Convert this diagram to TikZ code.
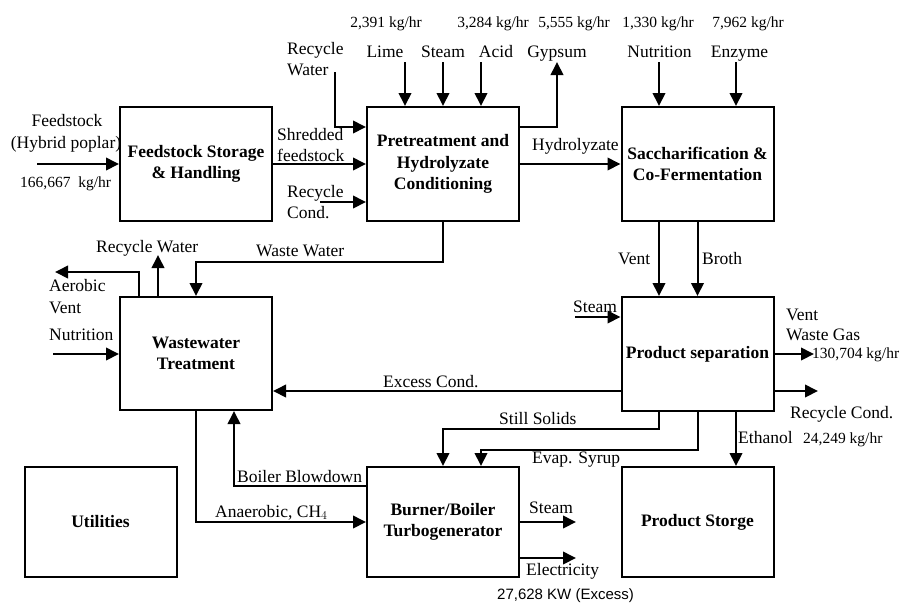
\documentclass[tikz,border=0pt]{standalone}
\usepackage{fontspec}
\setmainfont{Liberation Serif}
\newfontfamily\sansf{Liberation Sans}
\usetikzlibrary{arrows.meta}
\begin{document}
\begin{tikzpicture}[x=1pt,y=-1pt,
  box/.style={draw, line width=2pt, minimum width=152pt, align=center, inner sep=0pt,
    font=\bfseries\fontsize{17.5}{21.5}\selectfont},
  lbl/.style={inner sep=0pt, font=\fontsize{17.5}{22}\selectfont},
  numtxt/.style={inner sep=0pt, font=\fontsize{15.5}{18}\selectfont},
  arr/.style={line width=2pt, -{Triangle[length=13pt,width=12.5pt]}},
  ln/.style={line width=2pt}]
\useasboundingbox (0,0) rectangle (906,603);
% boxes
\node[box, minimum height=114pt] (fs) at (196,164) {Feedstock Storage\\\& Handling};
\node[box, minimum height=114pt] (pt) at (443,164) {Pretreatment and\\Hydrolyzate\\Conditioning};
\node[box, minimum height=114pt] (sc) at (697.5,164) {Saccharification \&\\Co-Fermentation};
\node[box, minimum height=113pt] (ww) at (196,353.5) {Wastewater\\Treatment};
\node[box, minimum height=114pt] (ps) at (697.5,354) {Product separation};
\node[box, minimum height=110pt] (ut) at (100.5,522) {Utilities};
\node[box, minimum height=110pt] (bb) at (443,522) {Burner/Boiler\\Turbogenerator};
\node[box, minimum height=110pt] (st) at (697.5,522) {Product Storge};
% free ends
\coordinate (fin) at (37,164);
\coordinate (rwt) at (335,72);
\coordinate (rc) at (320,202);
\coordinate (lime) at (405,62);
\coordinate (stm) at (443,62);
\coordinate (acid) at (481,62);
\coordinate (gyp) at (557,62);
\coordinate (nut) at (659,62);
\coordinate (enz) at (736,62);
\coordinate (rww) at (158,255);
\coordinate (av) at (55,272);
\coordinate (nw) at (53,354);
\coordinate (sps) at (575,317);
\coordinate (vwg) at (814,354);
\coordinate (rcd) at (818,391);
\coordinate (bst) at (576,522);
\coordinate (bel) at (576,558);
% connectors
\draw[arr] (fin) -- (fs.west);
\draw[arr] (fs.east) -- (pt.west);
\draw[arr] (rwt) |- (pt.west |- 0,127);
\draw[arr] (rc) -- (pt.west |- rc);
\draw[arr] (lime) -- (lime |- pt.north);
\draw[arr] (stm) -- (stm |- pt.north);
\draw[arr] (acid) -- (acid |- pt.north);
\draw[arr] (pt.east |- 0,127) -| (gyp);
\draw[arr] (pt.east) -- (sc.west);
\draw[arr] (nut) -- (nut |- sc.north);
\draw[arr] (enz) -- (enz |- sc.north);
\draw[arr] (sc.south -| 659,0) -- (ps.north -| 659,0);
\draw[arr] (sc.south) -- (ps.north);
\draw[arr] (pt.south) -- (443,262) -| (ww.north);
\draw[arr] (ww.north -| rww) -- (rww);
\draw[arr] (ww.north -| 139,0) |- (av);
\draw[arr] (nw) -- (ww.west |- nw);
\draw[arr] (sps) -- (ps.west |- sps);
\draw[arr] (ps.west |- 0,391) -- (ww.east |- 0,391);
\draw[arr] (ps.east) -- (vwg);
\draw[arr] (ps.east |- rcd) -- (rcd);
\draw[arr] (ps.south -| 659,0) -- (659,429) -| (bb.north);
\draw[arr] (ps.south) -- (697.5,450) -| (bb.north -| 481,0);
\draw[arr] (ps.south -| 736,0) -- (st.north -| 736,0);
\draw[arr] (ww.south) |- (bb.west);
\draw[arr] (bb.west |- 0,486) -| (ww.south -| 234,0);
\draw[arr] (bb.east) -- (bst);
\draw[arr] (bb.east |- bel) -- (bel);
% labels
\node[lbl, anchor=base] (l1) at (67,126) {Feedstock};
\node[lbl, anchor=base] (l2) at (66,148) {(Hybrid poplar)};
\node[numtxt, anchor=base west] (l3) at (20,187) {166,667\ \ kg/hr};
\node[lbl, anchor=base west] (l4) at (277,140) {Shredded};
\node[lbl, anchor=base west] (l5) at (277,161) {feedstock};
\node[lbl, anchor=base west] (l6) at (287,54) {Recycle};
\node[lbl, anchor=base west] (l7) at (287,75) {Water};
\node[lbl, anchor=base west] (l8) at (287,197) {Recycle};
\node[lbl, anchor=base west] (l9) at (287,218) {Cond.};
\node[numtxt, anchor=base] (n1) at (386,27) {2,391 kg/hr};
\node[numtxt, anchor=base] (n2) at (493,27) {3,284 kg/hr};
\node[numtxt, anchor=base] (n3) at (574,27) {5,555 kg/hr};
\node[numtxt, anchor=base] (n4) at (658,27) {1,330 kg/hr};
\node[numtxt, anchor=base] (n5) at (748,27) {7,962 kg/hr};
\node[lbl, anchor=base] (t1) at (385,57) {Lime};
\node[lbl, anchor=base] (t2) at (443,57) {Steam};
\node[lbl, anchor=base] (t3) at (496,57) {Acid};
\node[lbl, anchor=base] (t4) at (557,57) {Gypsum};
\node[lbl, anchor=base] (t5) at (659.5,57) {Nutrition};
\node[lbl, anchor=base] (t6) at (739.5,57) {Enzyme};
\node[lbl, anchor=base west] (l10) at (532,150) {Hydrolyzate};
\node[lbl, anchor=base west] (l11) at (618,264) {Vent};
\node[lbl, anchor=base west] (l12) at (702,264) {Broth};
\node[lbl, anchor=base west] (l13) at (256,256) {Waste Water};
\node[lbl, anchor=base west] (l14) at (96,252) {Recycle Water};
\node[lbl, anchor=base west] (l15) at (49,291) {Aerobic};
\node[lbl, anchor=base west] (l16) at (49,313) {Vent};
\node[lbl, anchor=base west] (l17) at (49,340) {Nutrition};
\node[lbl, anchor=base west] (l18) at (573,312) {Steam};
\node[lbl, anchor=base west] (l19) at (383,387) {Excess Cond.};
\node[lbl, anchor=base west] (l20) at (786,320) {Vent};
\node[lbl, anchor=base west] (l21) at (786,340) {Waste Gas};
\node[numtxt, anchor=base west] (l22) at (812,358) {130,704 kg/hr};
\node[lbl, anchor=base west] (l23) at (790,418) {Recycle Cond.};
\node[lbl, anchor=base west] (l24) at (738,443) {Ethanol};
\node[numtxt, anchor=base west] (l25) at (803,443) {24,249 kg/hr};
\node[lbl, anchor=base west] (l26) at (499,424) {Still Solids};
\node[lbl, anchor=base west] (l27) at (532,463) {Evap. Syrup};
\node[lbl, anchor=base west] (l28) at (237,482) {Boiler Blowdown};
\node[lbl, anchor=base west] (l29) at (215,517) {Anaerobic, CH$_4$};
\node[lbl, anchor=base west] (l30) at (529,513) {Steam};
\node[lbl, anchor=base west] (l31) at (526,575) {Electricity};
\node[inner sep=0pt, anchor=base west, font=\sansf\fontsize{15}{18}\selectfont] (l32) at (497,599) {27,628 KW (Excess)};
\end{tikzpicture}
\end{document}
